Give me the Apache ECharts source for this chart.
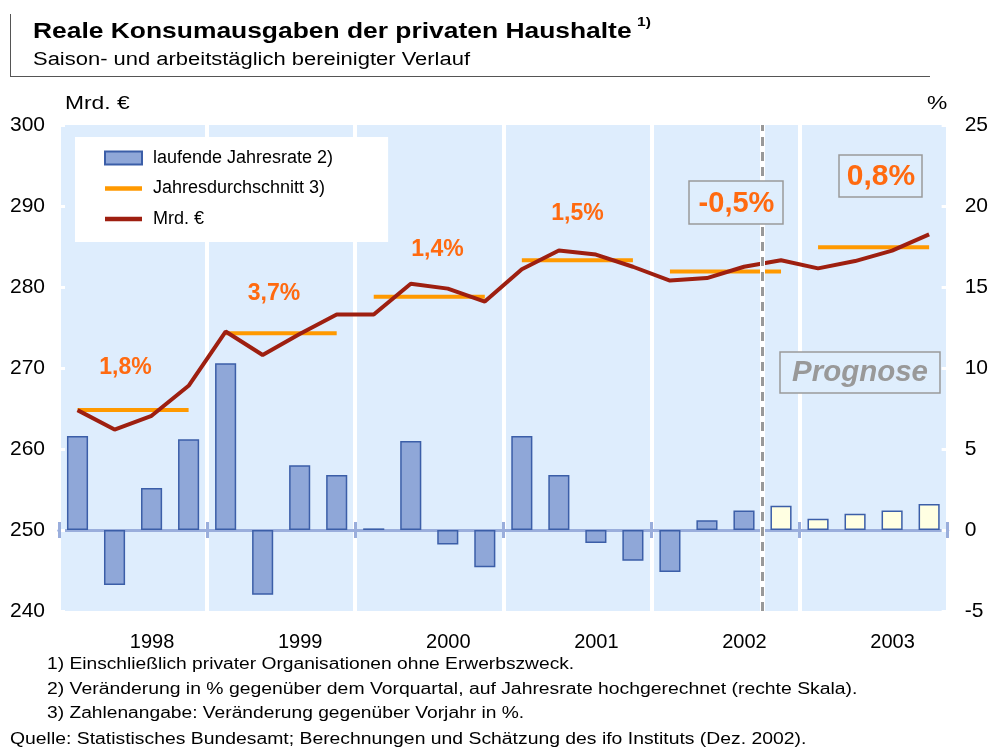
<!DOCTYPE html>
<html>
<head>
    <meta charset="utf-8">
    <title>Reale Konsumausgaben</title>
    <script src="https://cdn.jsdelivr.net/npm/echarts@6/dist/echarts.min.js"></script>
    <style>
        html, body { margin: 0; padding: 0; background: #fff; }
    </style>
</head>
<body>
    <div id="main" style="width: 991px;height:751px;"></div>
    <script type="text/javascript">
        // Quartale 1998 bis 2003
        var quarters = ['98 I','98 II','98 III','98 IV','99 I','99 II','99 III','99 IV',
                        '00 I','00 II','00 III','00 IV','01 I','01 II','01 III','01 IV',
                        '02 I','02 II','02 III','02 IV','03 I','03 II','03 III','03 IV'];
        var years = ['1998', '1999', '2000', '2001', '2002', '2003'];
        // laufende Jahresrate in % (rechte Skala)
        var jahresrate = [5.8, -3.4, 2.6, 5.6, 10.3, -4.0, 4.0, 3.4,
                          0.1, 5.5, -0.9, -2.3, 5.8, 3.4, -0.8, -1.9,
                          -2.6, 0.6, 1.2, 1.5, 0.7, 1.0, 1.2, 1.6];
        // Konsumausgaben in Mrd. Euro (linke Skala)
        var mrdEuro = [264.8, 262.4, 264.1, 267.8, 274.5, 271.6, 274.2, 276.6,
                       276.6, 280.4, 279.8, 278.2, 282.2, 284.5, 284.0, 282.5,
                       280.8, 281.1, 282.5, 283.3, 282.3, 283.2, 284.5, 286.5];
        // Jahresdurchschnitt in Mrd. Euro
        var jahresdurchschnitt = [264.8, 274.3, 278.8, 283.3, 281.9, 284.9];
        var prognoseStart = 19;   // erstes Prognosequartal (2002 IV)

        var myChart = echarts.init(document.getElementById('main'));

        var FONT = 'Liberation Sans, Arial, sans-serif';
        var ORANGE_TXT = '#ff6a10';
        var ZERO_COL = '#9aaedc';

        // Balken, Prognose hell gefärbt
        var barData = jahresrate.map(function (v, i) {
            if (i >= prognoseStart) {
                return { value: v, itemStyle: { color: '#ffffe2' } };
            }
            return v;
        });

        var series = [];
        series.push({
            name: 'laufende Jahresrate 2)',
            type: 'bar',
            xAxisIndex: 0,
            yAxisIndex: 1,
            barWidth: '57%',
            data: barData,
            itemStyle: { color: '#8fa7d8', borderColor: '#3b5ea8', borderWidth: 1.5 },
            z: 2
        });

        // ein Abschnitt je Jahr
        jahresdurchschnitt.forEach(function (v, y) {
            var d = quarters.map(function (q, i) {
                return Math.floor(i / 4) === y ? v : '-';
            });
            series.push({
                name: 'Jahresdurchschnitt 3)',
                type: 'line',
                xAxisIndex: 0,
                yAxisIndex: 0,
                data: d,
                symbol: 'none',
                color: '#ff9900',
                lineStyle: { color: '#ff9900', width: 4 },
                z: 3
            });
        });

        series.push({
            name: 'Mrd. €',
            type: 'line',
            xAxisIndex: 0,
            yAxisIndex: 0,
            data: mrdEuro,
            symbol: 'none',
            color: '#9e1f10',
            lineStyle: { color: '#9e1f10', width: 4 },
            z: 4
        });

        // Trennlinie Prognose
        series.push({
            type: 'line',
            xAxisIndex: 2,
            yAxisIndex: 0,
            data: [],
            markLine: {
                silent: true,
                symbol: 'none',
                label: { show: false },
                data: [
                    { xAxis: prognoseStart, lineStyle: { color: '#ffffff', width: 5, type: 'solid' } },
                    { xAxis: prognoseStart, lineStyle: { color: '#999999', width: 3, type: [9, 6] } }
                ]
            },
            z: 5
        });

        function txt(x, y, s, font, extra, sx) {
            var st = { text: s, font: font + ' ' + FONT, fill: '#000', textVerticalAlign: 'middle' };
            for (var k in extra) st[k] = extra[k];
            return { type: 'text', x: x, y: y, scaleX: sx || 1, style: st, z: 100 };
        }
        function box(x, y, w, h) {
            return { type: 'rect', shape: { x: x, y: y, width: w, height: h },
                     style: { fill: '#dfeefd', stroke: '#9a9a9a', lineWidth: 1.5 }, z: 90 };
        }
        var lineIcon = 'path://M0,0 L40,0 L40,5 L0,5 Z';
        var orangeLabel = { fill: ORANGE_TXT, textAlign: 'center' };
        var yearTick = function (i) { return i % 4 === 0; };

        var option = {
            animation: false,
            backgroundColor: '#fff',
            textStyle: { fontFamily: FONT },
            grid: {
                left: 59, right: 39, top: 125, bottom: 140,
                show: true, backgroundColor: '#deedfd', borderWidth: 0
            },
            legend: {
                orient: 'vertical',
                left: 75, top: 137,
                padding: [12, 55, 14, 29],
                backgroundColor: '#ffffff',
                itemWidth: 37, itemHeight: 13, itemGap: 12.5,
                textStyle: { fontSize: 18, color: '#000', padding: [0, 0, 0, 6] },
                data: [
                    { name: 'laufende Jahresrate 2)', icon: 'rect' },
                    { name: 'Jahresdurchschnitt 3)', icon: lineIcon },
                    { name: 'Mrd. €', icon: lineIcon }
                ]
            },
            xAxis: [
                {
                    type: 'category',
                    data: quarters,
                    position: 'bottom',
                    axisLine: { onZero: true, onZeroAxisIndex: 1, lineStyle: { color: ZERO_COL, width: 3 } },
                    axisTick: { show: true, interval: yearTick, length: 8,
                                lineStyle: { color: ZERO_COL, width: 3 } },
                    axisLabel: { show: false },
                    splitLine: { show: false }
                },
                {
                    type: 'category',
                    data: years,
                    position: 'bottom',
                    axisLine: { show: false, onZero: false },
                    axisTick: { show: false },
                    axisLabel: { show: true, margin: 21, fontSize: 20, color: '#000', fontFamily: FONT,
                                 padding: [0, 0, 0, 38] },
                    splitLine: { show: true, lineStyle: { color: '#ffffff', width: 4 } }
                },
                {
                    type: 'value',
                    min: 0, max: quarters.length,
                    show: false
                },
                {
                    // Striche nach oben an der Nulllinie
                    type: 'category',
                    data: quarters,
                    position: 'bottom',
                    axisLine: { show: true, onZero: true, onZeroAxisIndex: 1,
                                lineStyle: { color: ZERO_COL, width: 3 } },
                    axisTick: { show: true, inside: true, interval: yearTick, length: 8,
                                lineStyle: { color: ZERO_COL, width: 3 } },
                    axisLabel: { show: false },
                    splitLine: { show: false }
                }
            ],
            yAxis: [
                {
                    type: 'value',
                    min: 240, max: 300, interval: 10,
                    position: 'left',
                    axisLine: { show: false },
                    axisTick: { show: true, inside: true, length: 6, lineStyle: { color: '#ffffff', width: 3 } },
                    axisLabel: { fontSize: 21, color: '#000', margin: 14, fontFamily: FONT },
                    splitLine: { show: false }
                },
                {
                    type: 'value',
                    min: -5, max: 25, interval: 5,
                    position: 'right',
                    axisLine: { show: false },
                    axisTick: { show: true, inside: true, length: 6, lineStyle: { color: '#ffffff', width: 3 } },
                    axisLabel: { fontSize: 21, color: '#000', margin: 17, fontFamily: FONT },
                    splitLine: { show: false }
                }
            ],
            series: series,
            graphic: [
                { type: 'line', shape: { x1: 10.5, y1: 14, x2: 10.5, y2: 76 }, style: { stroke: '#555', lineWidth: 1 } },
                { type: 'line', shape: { x1: 10, y1: 76.5, x2: 930, y2: 76.5 }, style: { stroke: '#555', lineWidth: 1 } },
                txt(33, 32, 'Reale Konsumausgaben der privaten Haushalte', 'bold 22px', {}, 1.2),
                txt(637, 22, '1)', 'bold 13px', {}, 1.2),
                txt(33, 60, 'Saison- und arbeitstäglich bereinigter Verlauf', '18px', {}, 1.22),
                txt(65, 104, 'Mrd. €', '19px', {}, 1.2),
                txt(927, 104, '%', '19px', {}, 1.2),

                txt(125.5, 368, '1,8%', 'bold 23px', orangeLabel),
                txt(274, 294, '3,7%', 'bold 23px', orangeLabel),
                txt(437.5, 250, '1,4%', 'bold 23px', orangeLabel),
                txt(577.5, 214, '1,5%', 'bold 23px', orangeLabel),
                box(689, 181, 94, 43),
                txt(736.5, 204, '-0,5%', 'bold 29px', orangeLabel),
                box(839, 155, 83, 42),
                txt(881, 177, '0,8%', 'bold 30px', orangeLabel),
                box(780, 352, 160, 41),
                txt(860, 373, 'Prognose', 'italic bold 29.5px', { fill: '#999999', textAlign: 'center' }),

                txt(47, 665, '1) Einschließlich privater Organisationen ohne Erwerbszweck.', '16px', {}, 1.2),
                txt(47, 690, '2) Veränderung in % gegenüber dem Vorquartal, auf Jahresrate hochgerechnet (rechte Skala).', '16px', {}, 1.21),
                txt(47, 714, '3) Zahlenangabe: Veränderung gegenüber Vorjahr in %.', '16px', {}, 1.2),
                txt(10, 740, 'Quelle: Statistisches Bundesamt; Berechnungen und Schätzung des ifo Instituts (Dez. 2002).', '16px', {}, 1.21)
            ]
        };

        myChart.setOption(option);
    </script>
</body>
</html>
